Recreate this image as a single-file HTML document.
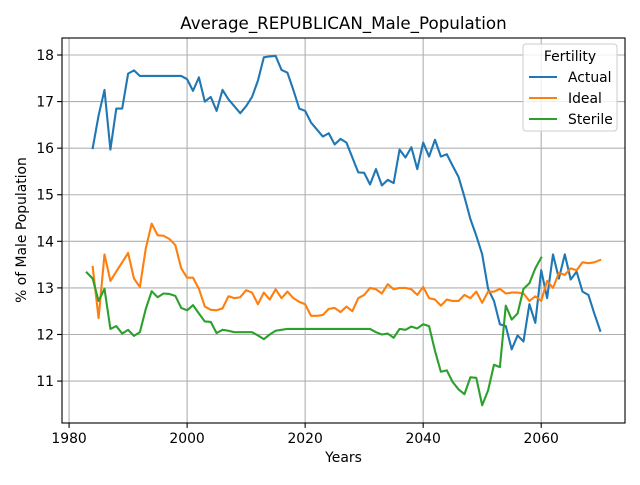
<!DOCTYPE html>
<html><head><meta charset="utf-8"><style>
body{margin:0;background:#fff}
svg text{font-family:"DejaVu Sans","Liberation Sans",sans-serif;fill:#000}
</style></head><body>
<svg id="chart" width="640" height="480" xmlns="http://www.w3.org/2000/svg">
<rect width="640" height="480" fill="#fff"/>
<g id="grid"></g>
<g id="series"></g>
<rect x="62" y="38" width="563" height="385" fill="none" stroke="#000" stroke-width="1.1"/>
<g id="ticks"></g>
<text x="343.5" y="29" font-size="16.7" text-anchor="middle">Average_REPUBLICAN_Male_Population</text>
<text x="343.5" y="462" font-size="13.9" text-anchor="middle">Years</text>
<text transform="translate(26,230) rotate(-90)" font-size="13.9" text-anchor="middle">% of Male Population</text>
<g>
<rect x="523" y="44" width="94" height="87" rx="3" fill="#fff" fill-opacity="0.8" stroke="#ccc"/>
<text x="570" y="61" font-size="13.9" text-anchor="middle">Fertility</text>
<line x1="529" y1="77" x2="557" y2="77" stroke="#1f77b4" stroke-width="2.1"/>
<text x="568" y="82" font-size="13.9">Actual</text>
<line x1="529" y1="98" x2="557" y2="98" stroke="#ff7f0e" stroke-width="2.1"/>
<text x="568" y="103" font-size="13.9">Ideal</text>
<line x1="529" y1="119" x2="557" y2="119" stroke="#2ca02c" stroke-width="2.1"/>
<text x="568" y="124" font-size="13.9">Sterile</text>
</g>
</svg>
<script>
const xTicks=[1980,2000,2020,2040,2060];
const yTicks=[11,12,13,14,15,16,17,18];
const actualStart=1984;
const actual=[16.0,16.7,17.25,15.97,16.85,16.85,17.6,17.67,17.55,17.55,17.55,17.55,17.55,17.55,17.55,17.55,17.48,17.23,17.52,17.0,17.1,16.8,17.25,17.05,16.9,16.75,16.9,17.1,17.45,17.95,17.97,17.98,17.68,17.62,17.25,16.85,16.8,16.55,16.4,16.25,16.32,16.08,16.2,16.12,15.8,15.48,15.47,15.22,15.55,15.2,15.32,15.25,15.97,15.8,16.02,15.55,16.12,15.82,16.18,15.82,15.87,15.62,15.38,14.95,14.48,14.12,13.72,12.98,12.72,12.22,12.18,11.68,11.98,11.85,12.65,12.25,13.38,12.78,13.72,13.2,13.72,13.18,13.35,12.92,12.85,12.45,12.08];
const idealStart=1984;
const ideal=[13.45,12.35,13.72,13.15,13.35,13.55,13.75,13.2,13.02,13.85,14.38,14.13,14.12,14.05,13.92,13.42,13.22,13.22,12.98,12.6,12.53,12.52,12.56,12.82,12.78,12.8,12.95,12.9,12.65,12.9,12.75,12.97,12.78,12.92,12.78,12.7,12.65,12.4,12.4,12.42,12.55,12.57,12.48,12.6,12.5,12.78,12.85,13.0,12.97,12.88,13.08,12.97,13.0,13.0,12.97,12.85,13.02,12.78,12.75,12.62,12.75,12.72,12.72,12.85,12.78,12.92,12.68,12.92,12.92,12.98,12.88,12.9,12.9,12.88,12.72,12.82,12.72,13.15,13.0,13.32,13.28,13.42,13.38,13.55,13.53,13.55,13.6];
const sterileStart=1983;
const sterile=[13.33,13.2,12.72,12.98,12.12,12.18,12.02,12.1,11.97,12.05,12.55,12.93,12.8,12.88,12.87,12.83,12.57,12.52,12.63,12.45,12.28,12.27,12.03,12.1,12.08,12.05,12.05,12.05,12.05,11.98,11.9,12.0,12.08,12.1,12.12,12.12,12.12,12.12,12.12,12.12,12.12,12.12,12.12,12.12,12.12,12.12,12.12,12.12,12.12,12.05,12.0,12.02,11.93,12.12,12.1,12.17,12.13,12.22,12.18,11.65,11.2,11.23,10.98,10.82,10.72,11.08,11.07,10.48,10.8,11.35,11.3,12.62,12.32,12.45,12.98,13.1,13.42,13.65];

const L=62,R=625,T=38,B=423,xmin=1978.8,xmax=2074.2,ymin=10.1,ymax=18.365;
const X=v=>L+(v-xmin)/(xmax-xmin)*(R-L);
const Y=v=>B-(v-ymin)/(ymax-ymin)*(B-T);
const NS="http://www.w3.org/2000/svg";
const grid=document.getElementById('grid'),ticks=document.getElementById('ticks'),ser=document.getElementById('series');
function mk(tag,attrs,parent){const e=document.createElementNS(NS,tag);for(const k in attrs)e.setAttribute(k,attrs[k]);parent.appendChild(e);return e;}
xTicks.forEach(t=>{
 const g=mk('line',{x1:X(t),x2:X(t),y1:T,y2:B,stroke:'#b0b0b0','stroke-width':1.1},grid);
 
 
 const tk=mk('line',{x1:X(t),x2:X(t),y1:B,y2:B+4.9,stroke:'#000','stroke-width':1.1},ticks);
 
 
 const tx=mk('text',{x:X(t),y:B+20,'font-size':13.9,'text-anchor':'middle'},ticks);
 tx.textContent=t;
 
 
});
yTicks.forEach(t=>{
 const g=mk('line',{x1:L,x2:R,y1:Y(t),y2:Y(t),stroke:'#b0b0b0','stroke-width':1.1},grid);
 
 
 const tk=mk('line',{x1:L-4.9,x2:L,y1:Y(t),y2:Y(t),stroke:'#000','stroke-width':1.1},ticks);
 
 
 const tx=mk('text',{x:L-8,y:Y(t)+5,'font-size':13.9,'text-anchor':'end'},ticks);
 tx.textContent=t;
 
 
});
function line(vals,start,color,name){
 const d=vals.map((v,i)=>(i?'L':'M')+X(start+i).toFixed(2)+','+Y(v).toFixed(2)).join(' ');
 const p=mk('path',{d:d,fill:'none',stroke:color,'stroke-width':2.1,'stroke-linejoin':'round','stroke-linecap':'square'},ser);
 
 
}
line(actual,actualStart,'#1f77b4','actual-line');
line(ideal,idealStart,'#ff7f0e','ideal-line');
line(sterile,sterileStart,'#2ca02c','sterile-line');
</script>
</body></html>
